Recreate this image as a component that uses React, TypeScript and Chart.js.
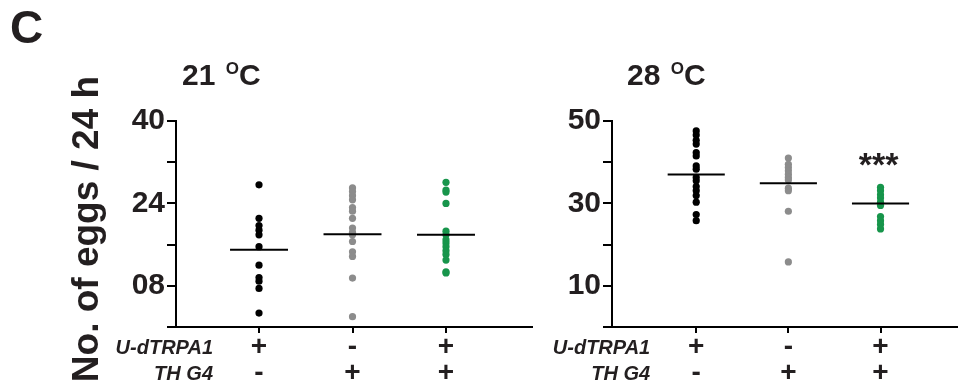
import React, { useEffect, useRef } from 'react';
import { Chart, registerables } from 'chart.js';

Chart.register(...registerables);

// ---------- data ----------
const categories = [1, 2, 3];
const rowLabels = ['U-dTRPA1', 'TH G4'];
const rowUdTRPA1 = ['+', '-', '+'];
const rowTHG4 = ['-', '+', '+'];

const black21 = [27.6, 21.1, 19.7, 18.8, 17.9, 15.6, 12.0, 9.6, 8.9, 7.5, 2.7];
const gray21 = [27.0, 26.3, 25.5, 24.7, 23.2, 22.5, 21.1, 19.2, 18.4, 17.9, 16.6, 14.6, 13.7, 9.5, 2.0];
const green21 = [28.1, 26.6, 26.2, 24.0, 18.6, 17.9, 16.9, 16.3, 15.6, 14.8, 14.1, 13.0, 10.7, 10.5];
const means21 = [15.0, 18.0, 17.9];

const black28 = [47.6, 46.6, 45.3, 44.4, 42.3, 41.5, 39.1, 38.3, 36.3, 35.5, 34.1, 33.1, 31.9, 30.3, 27.3, 25.8];
const gray28 = [41.0, 39.5, 38.7, 37.9, 37.1, 36.3, 35.7, 33.7, 33.1, 28.1, 15.8];
const green28 = [33.9, 33.1, 32.1, 31.3, 30.3, 29.5, 26.8, 25.8, 24.9, 23.8];
const means28 = [37.0, 34.9, 30.0];

const ticks21 = [0, 8, 16, 24, 32, 40];
const tickText21 = ['', '08', '', '24', '', '40'];
const ticks28 = [0, 10, 20, 30, 40, 50];
const tickText28 = ['', '10', '', '30', '', '50'];

const sig21 = ['', '', ''];
const sig28 = ['', '', '***'];

const figureLabel = 'C';
const yAxisTitle = 'No. of eggs / 24 h';

// ---------- styles ----------
const FONT = '"Liberation Sans", Arial, Helvetica, sans-serif';
const TEXT = '#231f20';
const groupColors = ['#000000', '#8c8c8c', '#17954b'];

type Panel = {
  groups: number[][];
  means: number[];
  ticks: number[];
  tickText: string[];
  sig: string[];
  titleMain: string;
  titleSup: string;
  titleUnit: string;
  xMin: number;
  xMax: number;
  left: number;
  width: number;
  padLeft: number;
  padRight: number;
  titleOffset: number;
  first: boolean;
};

const panels: Panel[] = [
  {
    groups: [black21, gray21, green21],
    means: means21,
    ticks: ticks21,
    tickText: tickText21,
    sig: sig21,
    titleMain: '21',
    titleSup: 'O',
    titleUnit: 'C',
    xMin: 0.112,
    xMax: 3.92,
    left: 0,
    width: 545,
    padLeft: 120,
    padRight: 13,
    titleOffset: 6,
    first: true,
  },
  {
    groups: [black28, gray28, green28],
    means: means28,
    ticks: ticks28,
    tickText: tickText28,
    sig: sig28,
    titleMain: '28',
    titleSup: 'O',
    titleUnit: 'C',
    xMin: 0.086,
    xMax: 3.83,
    left: 540,
    width: 421,
    padLeft: 16,
    padRight: 1,
    titleOffset: 15,
    first: false,
  },
];

function PanelChart({ p }: { p: Panel }) {
  const ref = useRef<HTMLCanvasElement | null>(null);
  useEffect(() => {
    if (!ref.current) return;
    const datasets: any[] = [];
    p.means.forEach((m, gi) => {
      datasets.push({
        data: [
          { x: categories[gi] - 0.31, y: m },
          { x: categories[gi] + 0.31, y: m },
        ],
        showLine: true,
        borderColor: '#000',
        borderWidth: 2,
        pointRadius: 0,
        order: 1,
      });
    });
    p.groups.forEach((vals, gi) => {
      datasets.push({
        data: vals.map((v) => ({ x: categories[gi], y: v })),
        backgroundColor: groupColors[gi],
        borderWidth: 0,
        pointRadius: 3.6,
        order: 2,
      });
    });

    const decor = {
      id: 'decor',
      afterDraw(chart: any) {
        const ctx = chart.ctx;
        const xs = chart.scales.x;
        const ys = chart.scales.y;
        const area = chart.chartArea;
        ctx.save();
        ctx.fillStyle = TEXT;
        ctx.textBaseline = 'alphabetic';
        // title
        ctx.textAlign = 'left';
        let tx = area.left + p.titleOffset;
        ctx.font = `bold 30px ${FONT}`;
        ctx.fillText(p.titleMain + ' ', tx, 85);
        tx += ctx.measureText(p.titleMain + ' ').width + 2;
        ctx.font = `bold 17px ${FONT}`;
        ctx.fillText(p.titleSup, tx, 74);
        tx += ctx.measureText(p.titleSup).width;
        ctx.font = `bold 30px ${FONT}`;
        ctx.fillText(p.titleUnit, tx, 85);
        // row labels
        ctx.textAlign = 'right';
        ctx.font = `italic bold 20px ${FONT}`;
        const rx = xs.getPixelForValue(categories[0]) - 46;
        const rowTop = xs.top + 6 + 1;
        rowLabels.forEach((lab, i) => {
          ctx.fillText(lab, rx, rowTop + 13 + i * 26 + 7);
        });
        // significance
        ctx.textAlign = 'center';
        ctx.font = `bold 34px ${FONT}`;
        p.sig.forEach((s, gi) => {
          if (!s) return;
          const top = Math.max(...p.groups[gi]);
          ctx.fillText(s, xs.getPixelForValue(categories[gi]) - 2, ys.getPixelForValue(top) - 11);
        });
        if (p.first) {
          ctx.textAlign = 'left';
          ctx.font = `bold 46px ${FONT}`;
          ctx.fillText(figureLabel, 10, 43);
          ctx.save();
          ctx.translate(98, 229);
          ctx.rotate(-Math.PI / 2);
          ctx.textAlign = 'center';
          ctx.font = `bold 37px ${FONT}`;
          ctx.fillText(yAxisTitle, 0, 0);
          ctx.restore();
        }
        ctx.restore();
      },
    };

    const chart = new Chart(ref.current, {
      type: 'scatter',
      data: { datasets },
      plugins: [decor],
      options: {
        responsive: false,
        animation: false,
        events: [],
        layout: { padding: { left: p.padLeft, right: p.padRight, top: 121, bottom: 0 } },
        plugins: { legend: { display: false }, tooltip: { enabled: false }, title: { display: false } },
        scales: {
          x: {
            type: 'linear',
            min: p.xMin,
            max: p.xMax,
            grid: { drawOnChartArea: false, drawTicks: true, tickLength: 6, color: '#000', lineWidth: 2 },
            border: { display: true, color: '#000', width: 2 },
            ticks: {
              autoSkip: false,
              maxRotation: 0,
              padding: 1,
              color: TEXT,
              font: { family: FONT, size: 28, weight: 'bold', lineHeight: 26 / 28 },
              callback: (v: any) => {
                const i = categories.indexOf(Number(v));
                return i >= 0 ? [rowUdTRPA1[i], rowTHG4[i]] : '';
              },
            },
            afterBuildTicks: (s: any) => {
              s.ticks = categories.map((v) => ({ value: v }));
            },
            afterFit: (s: any) => {
              s.height = 60;
            },
          },
          y: {
            type: 'linear',
            min: p.ticks[0],
            max: p.ticks[p.ticks.length - 1],
            grid: { drawOnChartArea: false, drawTicks: true, tickLength: 9, color: '#000', lineWidth: 2 },
            border: { display: true, color: '#000', width: 2 },
            ticks: {
              stepSize: p.ticks[1] - p.ticks[0],
              padding: 2,
              color: TEXT,
              font: { family: FONT, size: 30, weight: 'bold' },
              callback: (v: any) => {
                const i = p.ticks.indexOf(Number(v));
                return i >= 0 ? p.tickText[i] : '';
              },
            },
            afterFit: (s: any) => {
              s.width = 56;
            },
          },
        },
      } as any,
    });
    return () => chart.destroy();
  }, [p]);
  return (
    <canvas
      ref={ref}
      width={p.width}
      height={387}
      style={{ position: 'absolute', left: p.left, top: 0, width: p.width, height: 387 }}
    />
  );
}

export default function App() {
  return (
    <div style={{ position: 'absolute', left: 0, top: 0, width: 961, height: 387, background: '#fff' }}>
      {panels.map((p, i) => (
        <PanelChart key={i} p={p} />
      ))}
    </div>
  );
}
